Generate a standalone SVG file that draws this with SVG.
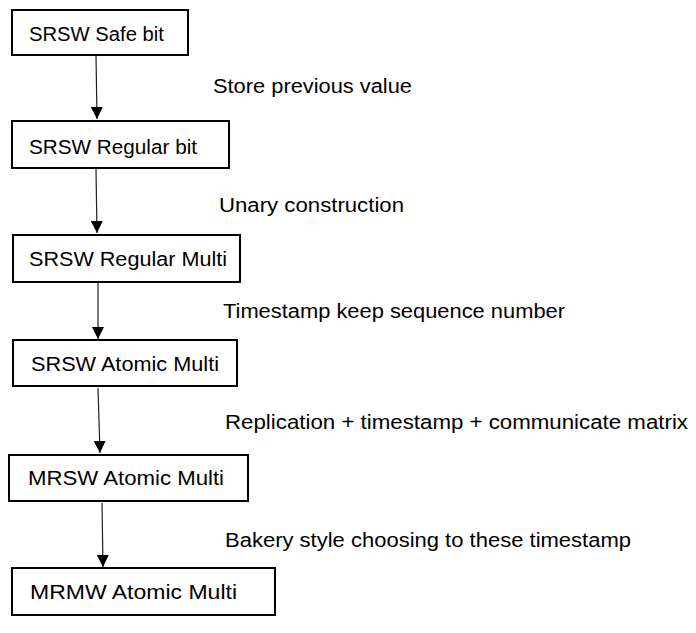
<svg xmlns="http://www.w3.org/2000/svg" width="696" height="633" viewBox="0 0 696 633">
<style>
.box{fill:#fff;stroke:#000;stroke-width:2}
.t{font-family:"Liberation Sans",Arial,sans-serif;font-size:20px;fill:#000}
.edge{stroke:#222;stroke-width:1.2;fill:none}
</style>
<defs>
<marker id="ah" markerUnits="userSpaceOnUse" viewBox="0 0 12 12" refX="12" refY="6" markerWidth="12" markerHeight="12" orient="auto">
<path d="M0,0 L12,6 L0,12 z" fill="#000"/>
</marker>
</defs>
<rect width="696" height="633" fill="#fff"/>
<g id="connectors">
<line class="edge" x1="96" y1="55" x2="97" y2="119" marker-end="url(#ah)"/>
<line class="edge" x1="96" y1="169" x2="97" y2="233" marker-end="url(#ah)"/>
<line class="edge" x1="98" y1="283" x2="98" y2="339" marker-end="url(#ah)"/>
<line class="edge" x1="98" y1="388" x2="100" y2="453" marker-end="url(#ah)"/>
<line class="edge" x1="102" y1="503" x2="103" y2="567" marker-end="url(#ah)"/>
<text class="t" x="213" y="93" textLength="199" lengthAdjust="spacingAndGlyphs">Store previous value</text>
<text class="t" x="219" y="212" textLength="185" lengthAdjust="spacingAndGlyphs">Unary construction</text>
<text class="t" x="223" y="318" textLength="342" lengthAdjust="spacingAndGlyphs">Timestamp keep sequence number</text>
<text class="t" x="225" y="429" textLength="463" lengthAdjust="spacingAndGlyphs">Replication + timestamp + communicate matrix</text>
<text class="t" x="225" y="547" textLength="406" lengthAdjust="spacingAndGlyphs">Bakery style choosing to these timestamp</text>
</g>
<g id="n1">
<rect class="box" x="12" y="10" width="176" height="45"/>
<text class="t" x="29" y="41" textLength="135" lengthAdjust="spacingAndGlyphs">SRSW Safe bit</text>
</g>
<g id="n2">
<rect class="box" x="12" y="121" width="217" height="47"/>
<text class="t" x="29" y="154" textLength="168" lengthAdjust="spacingAndGlyphs">SRSW Regular bit</text>
</g>
<g id="n3">
<rect class="box" x="13" y="235" width="227" height="47"/>
<text class="t" x="29" y="266" textLength="198" lengthAdjust="spacingAndGlyphs">SRSW Regular Multi</text>
</g>
<g id="n4">
<rect class="box" x="13" y="340" width="224" height="46"/>
<text class="t" x="31" y="371" textLength="188" lengthAdjust="spacingAndGlyphs">SRSW Atomic Multi</text>
</g>
<g id="n5">
<rect class="box" x="9" y="455" width="239" height="46"/>
<text class="t" x="28" y="485" textLength="196" lengthAdjust="spacingAndGlyphs">MRSW Atomic Multi</text>
</g>
<g id="n6">
<rect class="box" x="12" y="568" width="263" height="47"/>
<text class="t" x="30" y="599" textLength="207" lengthAdjust="spacingAndGlyphs">MRMW Atomic Multi</text>
</g>
</svg>
